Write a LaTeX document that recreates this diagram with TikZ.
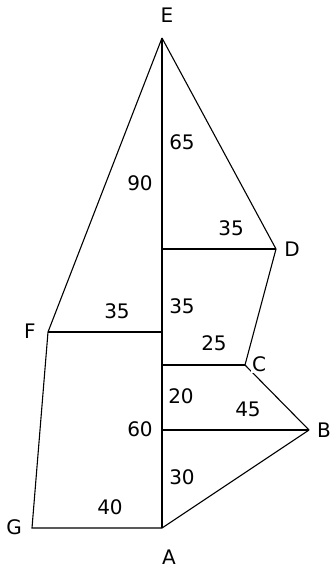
\documentclass[tikz,border=0pt]{standalone}
\usepackage{fontspec}
\setmainfont{DejaVu Sans}

\begin{document}
\begin{tikzpicture}[
    x=1pt, y=-1pt,
    wall/.style={draw=black, line width=1.1pt, line join=miter},
    vtx/.style={font=\fontsize{20}{24}\selectfont, inner sep=1.5pt},
    num/.style={font=\fontsize{20}{24}\selectfont, inner sep=1pt},
  ]
  \useasboundingbox (0,0) rectangle (330,569);

  %% ================= corners of the plan =================
  \coordinate (E) at (162,38);
  \coordinate (D) at (276,249);
  \coordinate (F) at (48,332);
  \coordinate (C) at (245,365);
  \coordinate (B) at (309,430);
  \coordinate (A) at (162,528);
  \coordinate (G) at (32,528);
  % where the offsets meet the base line E--A
  \foreach \p in {D,F,C,B} { \coordinate (\p0) at (162,0 |- \p); }

  %% ================= outline and offsets =================
  \draw[wall] (E) -- (A);
  \draw[wall] (E) -- (D) -- (C);
  \draw[wall] (E) -- (F) -- (G) -- (A) -- (B);
  \draw[wall] (C) -- (B);
  \foreach \p in {D,F,C,B} { \draw[wall] (\p0) -- (\p); }

  %% ================= station letters =================
  \node[vtx] (lE) at (167,15)  {E};
  \node[vtx] (lD) at (292,249) {D};
  \node[vtx] (lF) at (30,331)  {F};
  \node[vtx, fill=white] (lC) at (259,364) {C};
  \node[vtx] (lB) at (324,430) {B};
  \node[vtx] (lA) at (169,557) {A};
  \node[vtx] (lG) at (14,527)  {G};

  %% ================= measured lengths =================
  \foreach \x/\y/\t/\n in {182/142/65/nEa, 140/183/90/nEb, 231/228/35/nDo,
                           117/311/35/nFo, 182/306/35/nDF, 214/343/25/nCo,
                           181/396/20/nCB, 248/409/45/nBo, 140/429/60/nFA,
                           182/477/30/nBA, 110/507/40/nGo} {
    \node[num] (\n) at (\x,\y) {\t};
  }

\end{tikzpicture}
\end{document}
